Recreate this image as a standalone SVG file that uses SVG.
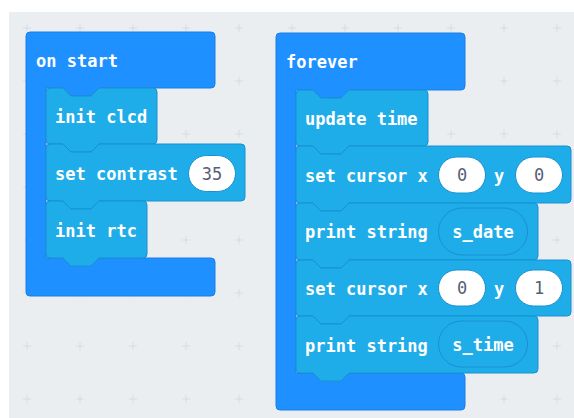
<svg xmlns="http://www.w3.org/2000/svg" width="574" height="418" viewBox="0 0 574 418">
<style>
.hat{fill:#1E90FF;stroke:#1A7EE6;stroke-width:1;stroke-linejoin:round}
.blk{fill:#1FADEA;stroke:#1890D0;stroke-width:1;stroke-linejoin:round}
.lbl{font-family:"DejaVu Sans Mono","Liberation Mono",monospace;font-weight:bold;font-size:17px;fill:#FFFFFF}
.num{fill:#FFFFFF;stroke:#1890D0;stroke-width:1}
.var{fill:#1FADEA;stroke:#1890D0;stroke-width:1}
.numt{font-family:"DejaVu Sans Mono","Liberation Mono",monospace;font-size:17px;fill:#575E75;text-anchor:middle}
.vart{font-family:"DejaVu Sans Mono","Liberation Mono",monospace;font-weight:bold;font-size:17px;fill:#FFFFFF;text-anchor:middle}
</style>
<defs>
<pattern id="grid" patternUnits="userSpaceOnUse" x="0.5" y="1.5" width="53" height="53">
<path d="M22.5 26.5H30.5M26.5 22.5V30.5" stroke="#D6DADE" stroke-width="1" fill="none"/>
</pattern>
</defs>
<rect x="0" y="0" width="574" height="418" fill="#FFFFFF"/>
<rect x="9" y="12" width="565" height="406" fill="#EBEEF1"/>
<rect x="9" y="12" width="565" height="406" fill="url(#grid)"/>

<g id="on-start">
<path class="hat" d="M30 32H211A4 4 0 0 1 215 36V84A4 4 0 0 1 211 88H99L91 96H71L63 88H46V258H211A4 4 0 0 1 215 262V292A4 4 0 0 1 211 296H30A4 4 0 0 1 26 292V36A4 4 0 0 1 30 32Z"/>
<text class="lbl" x="36" y="67">on start</text>
</g>
<g id="init-clcd">
<path class="blk" d="M50 88H63L71 96H91L99 88H153A4 4 0 0 1 157 92V140A4 4 0 0 1 153 144H99L91 152H71L63 144H50A4 4 0 0 1 46 140V92A4 4 0 0 1 50 88Z"/>
<text class="lbl" x="55" y="123">init clcd</text>
</g>
<g id="set-contrast">
<path class="blk" d="M50 144H63L71 152H91L99 144H241A4 4 0 0 1 245 148V197A4 4 0 0 1 241 201H99L91 209H71L63 201H50A4 4 0 0 1 46 197V148A4 4 0 0 1 50 144Z"/>
<text class="lbl" x="55" y="180">set contrast</text>
<rect class="num" x="188.5" y="155.5" width="47" height="36" rx="18"/>
<text class="numt" x="212" y="179.5">35</text>
</g>
<g id="init-rtc">
<path class="blk" d="M50 201H63L71 209H91L99 201H143A4 4 0 0 1 147 205V254A4 4 0 0 1 143 258H99L91 266H71L63 258H50A4 4 0 0 1 46 254V205A4 4 0 0 1 50 201Z"/>
<text class="lbl" x="55" y="237">init rtc</text>
</g>

<g id="forever">
<path class="hat" d="M280 33H461A4 4 0 0 1 465 37V86A4 4 0 0 1 461 90H349L341 98H321L313 90H296V373H461A4 4 0 0 1 465 377V406A4 4 0 0 1 461 410H280A4 4 0 0 1 276 406V37A4 4 0 0 1 280 33Z"/>
<text class="lbl" x="286" y="68">forever</text>
</g>
<g id="update-time">
<path class="blk" d="M300 90H313L321 98H341L349 90H424A4 4 0 0 1 428 94V142A4 4 0 0 1 424 146H349L341 154H321L313 146H300A4 4 0 0 1 296 142V94A4 4 0 0 1 300 90Z"/>
<text class="lbl" x="305" y="125">update time</text>
</g>
<g id="set-cursor-1">
<path class="blk" d="M300 146H313L321 154H341L349 146H567A4 4 0 0 1 571 150V199A4 4 0 0 1 567 203H349L341 211H321L313 203H300A4 4 0 0 1 296 199V150A4 4 0 0 1 300 146Z"/>
<text class="lbl" x="305" y="182">set cursor x</text>
<rect class="num" x="438.5" y="157" width="47" height="36" rx="18"/>
<text class="numt" x="462" y="181">0</text>
<text class="lbl" x="494" y="182">y</text>
<rect class="num" x="515.5" y="157" width="47" height="36" rx="18"/>
<text class="numt" x="539" y="181">0</text>
</g>
<g id="print-date">
<path class="blk" d="M300 203H313L321 211H341L349 203H534A4 4 0 0 1 538 207V256A4 4 0 0 1 534 260H349L341 268H321L313 260H300A4 4 0 0 1 296 256V207A4 4 0 0 1 300 203Z"/>
<text class="lbl" x="305" y="238">print string</text>
<rect class="var" x="438.5" y="208" width="89" height="47" rx="23.5"/>
<text class="vart" x="483" y="238">s_date</text>
</g>
<g id="set-cursor-2">
<path class="blk" d="M300 260H313L321 268H341L349 260H567A4 4 0 0 1 571 264V312A4 4 0 0 1 567 316H349L341 324H321L313 316H300A4 4 0 0 1 296 312V264A4 4 0 0 1 300 260Z"/>
<text class="lbl" x="305" y="295">set cursor x</text>
<rect class="num" x="438.5" y="270" width="47" height="36" rx="18"/>
<text class="numt" x="462" y="294">0</text>
<text class="lbl" x="494" y="295">y</text>
<rect class="num" x="515.5" y="270" width="47" height="36" rx="18"/>
<text class="numt" x="539" y="294">1</text>
</g>
<g id="print-time">
<path class="blk" d="M300 316H313L321 324H341L349 316H534A4 4 0 0 1 538 320V369A4 4 0 0 1 534 373H349L341 381H321L313 373H300A4 4 0 0 1 296 369V320A4 4 0 0 1 300 316Z"/>
<text class="lbl" x="305" y="352">print string</text>
<rect class="var" x="438.5" y="321" width="89" height="46" rx="23"/>
<text class="vart" x="483" y="351">s_time</text>
</g>
<g id="connectors"></g>
</svg>
